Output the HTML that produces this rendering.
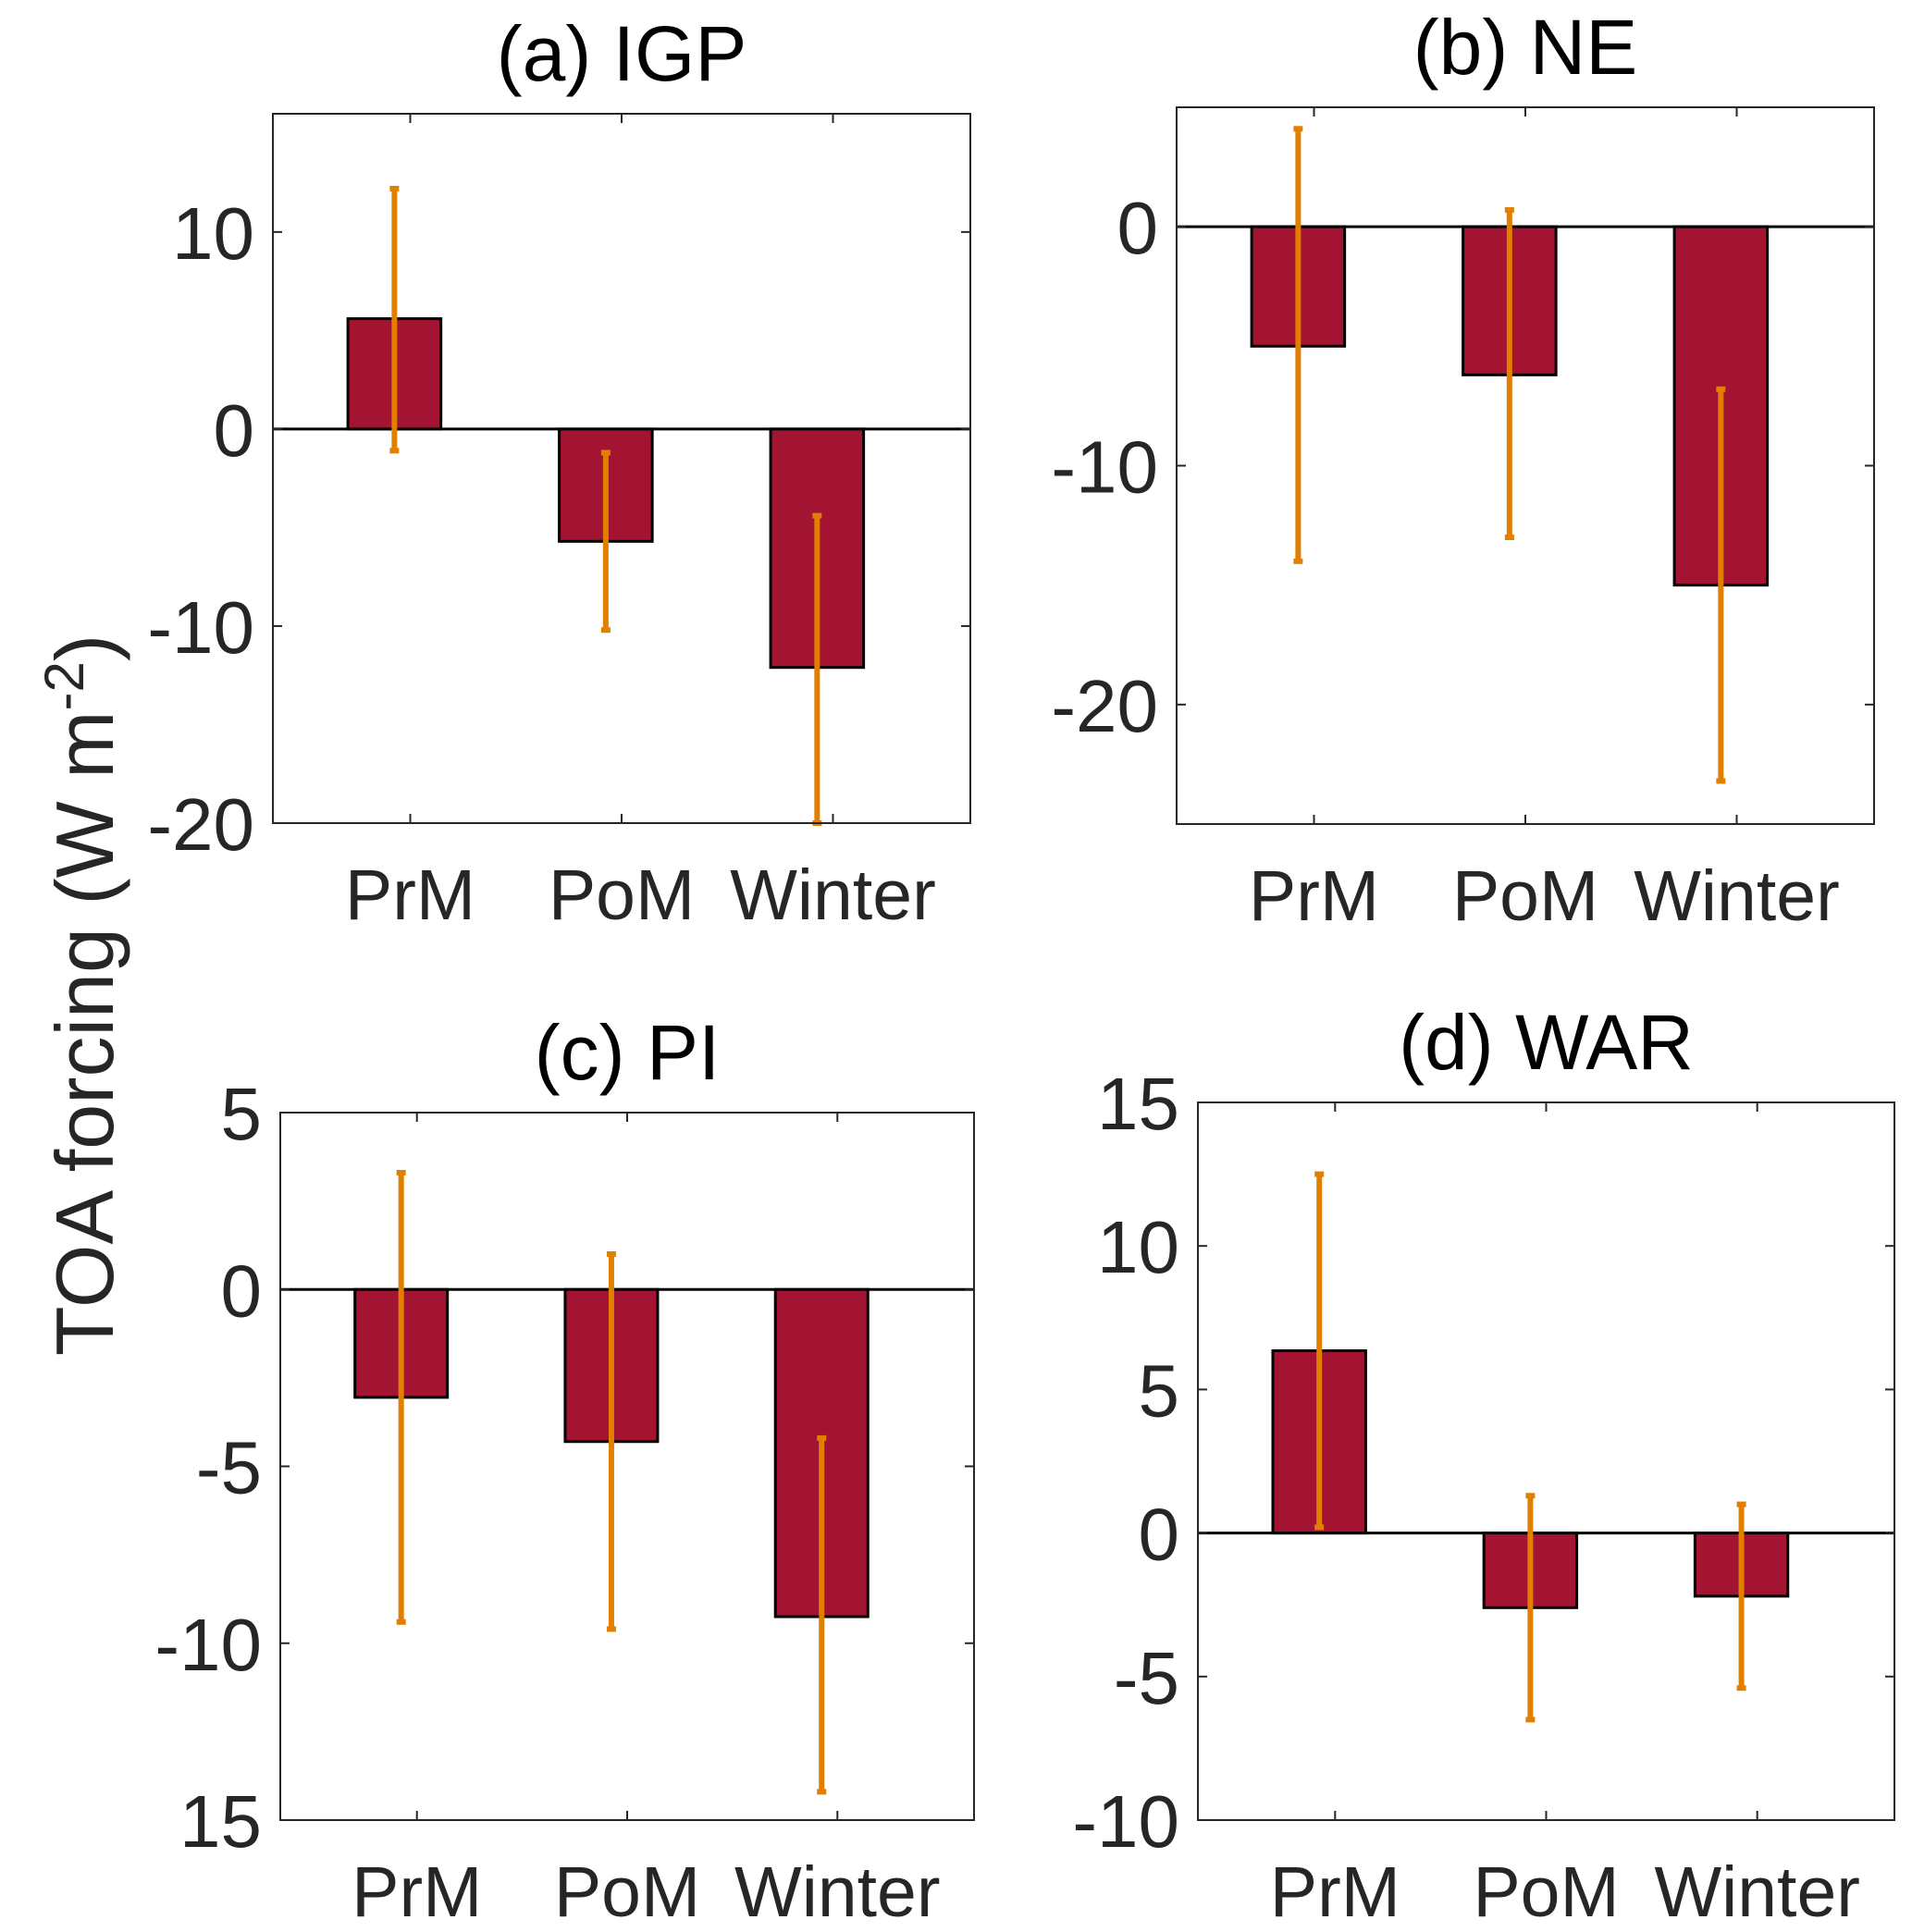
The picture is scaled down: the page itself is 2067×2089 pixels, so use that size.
<!DOCTYPE html>
<html><head><meta charset="utf-8"><style>
html,body{margin:0;padding:0;background:#fff}
svg{display:block}
text{font-family:"Liberation Sans",sans-serif}
</style></head><body>
<svg id="fig" width="2067" height="2089" viewBox="0 0 2067 2089" xmlns="http://www.w3.org/2000/svg">
<text transform="translate(122,1076) rotate(-90)" text-anchor="middle" font-size="88" fill="#262626">TOA forcing (W m<tspan dy="-32" font-size="60">-2</tspan><tspan dy="32">)</tspan></text>
</svg>
<script>
const categories = ["PrM","PoM","Winter"];
const valsA = [5.6, -5.7, -12.1];
const errHiA = [12.2, -1.2, -4.4];
const errLoA = [-1.1, -10.2, -20];
const valsB = [-5.0, -6.2, -15.0];
const errHiB = [4.1, 0.7, -6.8];
const errLoB = [-14.0, -13.0, -23.2];
const valsC = [-3.05, -4.3, -9.25];
const errHiC = [3.3, 1.0, -4.2];
const errLoC = [-9.4, -9.6, -14.2];
const valsD = [6.35, -2.6, -2.2];
const errHiD = [12.5, 1.3, 1.0];
const errLoD = [0.2, -6.5, -5.4];
const ticksA = [-20,-10,0,10];
const tickLabelsA = ["-20","-10","0","10"];
const ticksB = [-20,-10,0];
const tickLabelsB = ["-20","-10","0"];
const ticksC = [-15,-10,-5,0,5];
const tickLabelsC = ["15","-10","-5","0","5"];
const ticksD = [-10,-5,0,5,10,15];
const tickLabelsD = ["-10","-5","0","5","10","15"];
const ylimA=[-20,16], ylimB=[-25,5], ylimC=[-15,5], ylimD=[-10,15];

const NS="http://www.w3.org/2000/svg";
const svg=document.getElementById('fig');
function mk(tag,attrs,parent){const e=document.createElementNS(NS,tag);for(const k in attrs)e.setAttribute(k,attrs[k]);(parent||svg).appendChild(e);return e;}

const panels=[
 {id:'a',title:'(a) IGP',box:[295,123,1049,890],ylim:ylimA,ticks:ticksA,labels:tickLabelsA,vals:valsA,hi:errHiA,lo:errLoA},
 {id:'b',title:'(b) NE',box:[1272,116,2026,891],ylim:ylimB,ticks:ticksB,labels:tickLabelsB,vals:valsB,hi:errHiB,lo:errLoB},
 {id:'c',title:'(c) PI',box:[303,1203,1053,1968],ylim:ylimC,ticks:ticksC,labels:tickLabelsC,vals:valsC,hi:errHiC,lo:errLoC},
 {id:'d',title:'(d) WAR',box:[1295,1192,2048,1968],ylim:ylimD,ticks:ticksD,labels:tickLabelsD,vals:valsD,hi:errHiD,lo:errLoD}
];
panels.forEach(p=>{
 const [L,T,R,B]=p.box;
 const g=mk('g',{});
 
 
 const x=v=>L+(v-0.35)/3.3*(R-L);
 const y=v=>B-(v-p.ylim[0])/(p.ylim[1]-p.ylim[0])*(B-T);
 const off=-0.075;
 const bw=0.44;
 const base=mk('line',{x1:L,x2:R,y1:y(0),y2:y(0),stroke:'#000','stroke-width':3},g);
 
 
 p.vals.forEach((v,i)=>{
  const c=i+1+off;
  const r=mk('rect',{x:x(c-bw/2),width:x(c+bw/2)-x(c-bw/2),y:Math.min(y(v),y(0)),height:Math.abs(y(v)-y(0)),fill:'#A21431',stroke:'#000','stroke-width':3},g);
  
  
 });
 p.vals.forEach((v,i)=>{
  const c=i+1+off;
  const e=mk('line',{x1:x(c),x2:x(c),y1:y(p.hi[i]),y2:y(p.lo[i]),stroke:'#E27E00','stroke-width':6},g);
  
  
  [p.hi[i],p.lo[i]].forEach(ev=>{
   mk('rect',{x:x(c)-5,y:y(ev)-3,width:10,height:6,fill:'#E27E00'},g);
  });
 });
 const ax=mk('rect',{x:L,y:T,width:R-L,height:B-T,fill:'none',stroke:'#262626','stroke-width':2},g);
 
 
 p.ticks.forEach((t,i)=>{
  mk('line',{x1:L,x2:L+10,y1:y(t),y2:y(t),stroke:'#262626','stroke-width':2},g);
  mk('line',{x1:R,x2:R-10,y1:y(t),y2:y(t),stroke:'#262626','stroke-width':2},g);
  const tl=mk('text',{x:L-20,y:y(t)+29,'text-anchor':'end','font-size':80,fill:'#262626'},g);
  tl.textContent=p.labels[i];
  
  
 });
 categories.forEach((c,i)=>{
  mk('line',{x1:x(i+1),x2:x(i+1),y1:B,y2:B-10,stroke:'#262626','stroke-width':2},g);
  mk('line',{x1:x(i+1),x2:x(i+1),y1:T,y2:T+10,stroke:'#262626','stroke-width':2},g);
  const xl=mk('text',{x:x(i+1),y:B+104,'text-anchor':'middle','font-size':77,fill:'#262626'},g);
  xl.textContent=c;
  
  
 });
 const tt=mk('text',{x:(L+R)/2,y:T-36,'text-anchor':'middle','font-size':84,fill:'#000'},g);
 tt.textContent=p.title;
 
 
});
</script>
</body></html>
